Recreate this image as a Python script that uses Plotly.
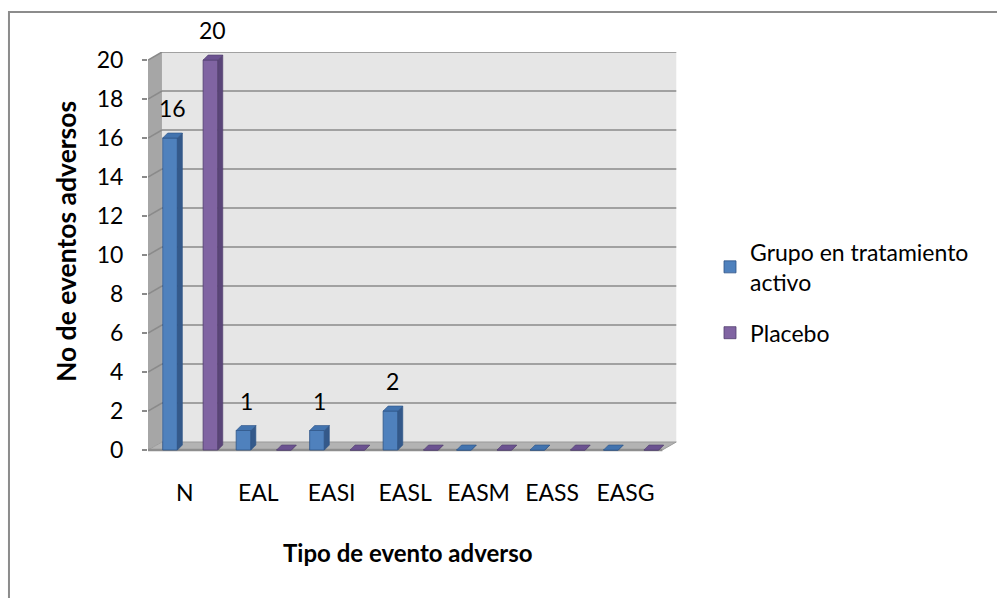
import plotly.graph_objects as go

# Adverse-event counts by type, per study arm
categories = ["N", "EAL", "EASI", "EASL", "EASM", "EASS", "EASG"]
activo = [16, 1, 1, 2, 0, 0, 0]
placebo = [20, 0, 0, 0, 0, 0, 0]
series_names = ["Grupo en tratamiento<br>activo", "Placebo"]
y_ticks = list(range(0, 21, 2))

FONT = "Lato"
TXT = "#000000"

# 3-D look: back wall / floor depth and bar depth, in axis units
WALL_DX, WALL_DY = 0.19, 0.41
BAR_DX, BAR_DY = 0.068, 0.256
BAR_W = 0.2
OFFSETS = [-0.2, 0.35]

FRONT = ["#4F81BD", "#8064A2"]
SIDE = ["#34598A", "#5A4578"]
TOP = ["#4273AE", "#6B5290"]
EDGE = ["#2E5486", "#523F6E"]

xs = list(range(len(categories)))
fig = go.Figure()

# front faces of the columns
for k, (vals, name) in enumerate(zip([activo, placebo], series_names)):
    fig.add_trace(go.Bar(
        x=xs, y=vals, name=name, width=BAR_W, offset=OFFSETS[k] - BAR_W / 2,
        legendgroup=f"g{k}",
        marker=dict(color=FRONT[k], line=dict(color=EDGE[k], width=0.8)),
        hoverinfo="skip",
    ))

# side and top faces, computed from the same values
for k, vals in enumerate([activo, placebo]):
    sx, sy, tx, ty = [], [], [], []
    for i, v in zip(xs, vals):
        x0 = i + OFFSETS[k] - BAR_W / 2
        x1 = x0 + BAR_W
        sx += [x1, x1 + BAR_DX, x1 + BAR_DX, x1, x1, None]
        sy += [0, BAR_DY, v + BAR_DY, v, 0, None]
        tx += [x0, x1, x1 + BAR_DX, x0 + BAR_DX, x0, None]
        ty += [v, v, v + BAR_DY, v + BAR_DY, v, None]
    fig.add_trace(go.Scatter(x=sx, y=sy, fill="toself", fillcolor=SIDE[k], mode="lines",
                             line=dict(color=EDGE[k], width=0.6), showlegend=False,
                             hoverinfo="skip"))
    fig.add_trace(go.Scatter(x=tx, y=ty, fill="toself", fillcolor=TOP[k], mode="lines",
                             line=dict(color=EDGE[k], width=0.6), showlegend=False,
                             hoverinfo="skip"))

# value labels for the non-zero columns
annotations = []
for k, vals in enumerate([activo, placebo]):
    for i, v in zip(xs, vals):
        if v:
            annotations.append(dict(
                x=i + OFFSETS[k] + BAR_DX / 2, y=v + BAR_DY, xref="x", yref="y",
                text=str(v), showarrow=False, yanchor="bottom", yshift=9,
                font=dict(family=FONT, size=23, color=TXT)))

# walls, floor and gridlines
x_lo, x_hi = -0.5, len(categories) - 0.5
shapes = [
    dict(type="rect", xref="x", yref="y", x0=x_lo + WALL_DX, x1=x_hi + WALL_DX,
         y0=WALL_DY, y1=20 + WALL_DY, fillcolor="#E6E6E6", line=dict(width=0), layer="below"),
    dict(type="path", xref="x", yref="y",
         path=f"M{x_lo},0 L{x_lo},20 L{x_lo + WALL_DX},{20 + WALL_DY} L{x_lo + WALL_DX},{WALL_DY} Z",
         fillcolor="#A6A6A6", line=dict(width=0), layer="below"),
    dict(type="path", xref="x", yref="y",
         path=f"M{x_lo},0 L{x_hi},0 L{x_hi + WALL_DX},{WALL_DY} L{x_lo + WALL_DX},{WALL_DY} Z",
         fillcolor="#B3B3B3", line=dict(color="#9A9A9A", width=1), layer="below"),
    dict(type="line", xref="x", yref="y", x0=x_lo, x1=x_hi, y0=0, y1=0,
         line=dict(color="#8E8E8E", width=2.5), layer="below"),
]
for v in y_ticks[1:]:
    shapes.append(dict(type="line", xref="x", yref="y", x0=x_lo + WALL_DX, x1=x_hi + WALL_DX,
                       y0=v + WALL_DY, y1=v + WALL_DY,
                       line=dict(color="#8A8A8A", width=1.5), layer="below"))
    shapes.append(dict(type="line", xref="x", yref="y", x0=x_lo, x1=x_lo + WALL_DX,
                       y0=v, y1=v + WALL_DY,
                       line=dict(color="#8A8A8A", width=1.5), layer="below"))

# chart-area frame (only top and left edges fall inside the page)
shapes.append(dict(type="rect", xref="paper", yref="paper", x0=-0.2628, x1=1.65,
                   y0=-0.45, y1=1.0998, line=dict(color="#8C8C8C", width=2),
                   fillcolor="rgba(0,0,0,0)"))

# axis titles
annotations.append(dict(text="<b>No de eventos adversos</b>", xref="paper", yref="paper",
                        x=-0.155, y=0.526, xanchor="center", yanchor="middle",
                        textangle=-90, showarrow=False,
                        font=dict(family=FONT, size=26.5, color=TXT)))
annotations.append(dict(text="<b>Tipo de evento adverso</b>", xref="paper", yref="paper",
                        x=0.4915, y=-0.247, xanchor="center", yanchor="middle",
                        showarrow=False,
                        font=dict(family=FONT, size=24, color=TXT)))

fig.update_layout(
    width=997, height=598,
    margin=dict(l=148, r=320, t=52, b=145),
    paper_bgcolor="white", plot_bgcolor="rgba(0,0,0,0)",
    barmode="overlay",
    font=dict(family=FONT, size=23, color=TXT),
    shapes=shapes, annotations=annotations,
    showlegend=True,
    legend=dict(x=1.0624, y=0.555, xanchor="left", yanchor="top",
                font=dict(family=FONT, size=23, color=TXT), tracegroupgap=18,
                bgcolor="rgba(0,0,0,0)"),
    xaxis=dict(range=[-0.5, 6.7], tickmode="array", tickvals=xs, ticktext=categories,
               showgrid=False, zeroline=False, showline=False, ticks="",
               ticklabelstandoff=24, tickfont=dict(family=FONT, size=23, color=TXT)),
    yaxis=dict(range=[-0.154, 20.41], tickmode="array", tickvals=y_ticks,
               showgrid=False, zeroline=False, showline=False, ticks="outside",
               ticklen=5, tickwidth=1.5, tickcolor="#8A8A8A", ticklabelstandoff=14,
               tickfont=dict(family=FONT, size=23, color=TXT)),
)

fig.write_html("out.html")
